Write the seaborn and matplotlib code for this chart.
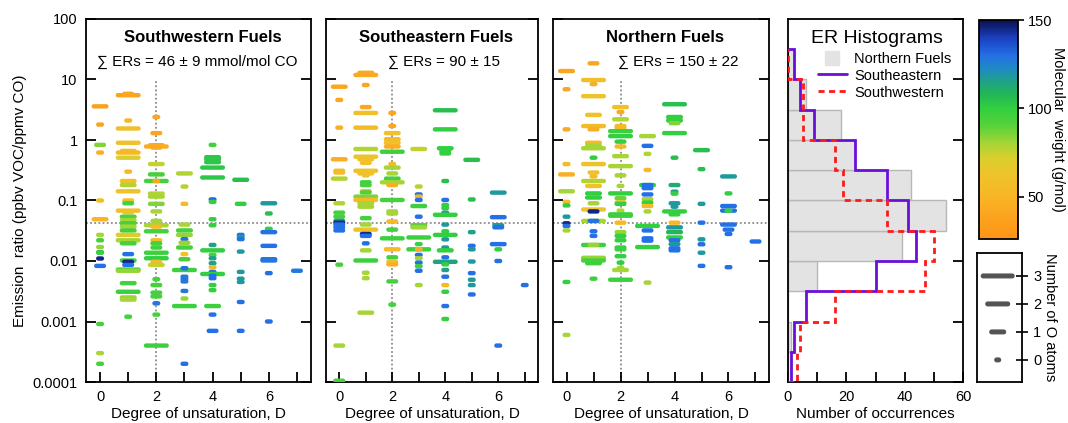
import numpy as np
import pandas as pd
import matplotlib
matplotlib.use("Agg")
import matplotlib.pyplot as plt
from matplotlib.path import Path
from matplotlib.colors import LinearSegmentedColormap, Normalize
from matplotlib.cm import ScalarMappable
from matplotlib.lines import Line2D
from matplotlib.ticker import NullLocator
import seaborn as sns

sns.set_theme(style="white")
plt.rcParams["font.family"] = ["Liberation Sans", "DejaVu Sans"]
plt.rcParams["axes.edgecolor"] = "black"
plt.rcParams["axes.linewidth"] = 1.3
plt.rcParams["xtick.color"] = "black"
plt.rcParams["ytick.color"] = "black"
plt.rcParams["text.color"] = "black"
plt.rcParams["axes.labelcolor"] = "black"

# ---------------------------------------------------------------------------
# Emission ratios (ppbv VOC / ppmv CO), molecular weight (g/mol) and number of
# O atoms, one inner list per degree of unsaturation D = 0..7
# ---------------------------------------------------------------------------
sw_er = [
    [3.6, 1.8, 0.83, 0.62, 0.10, 0.049, 0.027, 0.022, 0.017, 0.014, 0.0137, 0.011, 0.0083, 0.00091, 0.0003, 0.0002],
    [5.5, 5.8, 2.1, 1.55, 0.9, 0.66, 0.62, 0.51, 0.30, 0.21, 0.18, 0.142, 0.10, 0.09, 0.068, 0.064, 0.054, 0.047,
     0.042, 0.037, 0.032, 0.027, 0.022, 0.0196, 0.013, 0.0102, 0.0097, 0.0086, 0.0072, 0.0069, 0.0043, 0.0031,
     0.0025, 0.0023, 0.0012],
    [2.4, 1.3, 0.82, 0.78, 0.75, 0.40, 0.27, 0.21, 0.21, 0.13, 0.116, 0.088, 0.066, 0.046, 0.039, 0.037, 0.031,
     0.022, 0.0196, 0.0167, 0.0137, 0.0111, 0.0097, 0.0086, 0.005, 0.004, 0.003, 0.0026, 0.002, 0.0013, 0.0004],
    [0.28, 0.17, 0.088, 0.040, 0.032, 0.027, 0.023, 0.020, 0.0167, 0.013, 0.0107, 0.0071, 0.0076, 0.0055, 0.005,
     0.0046, 0.0032, 0.0024, 0.0018, 0.0002],
    [0.83, 0.52, 0.48, 0.43, 0.35, 0.24, 0.104, 0.095, 0.049, 0.039, 0.0184, 0.015, 0.0126, 0.0111, 0.0092, 0.0079,
     0.0066, 0.0061, 0.0057, 0.0052, 0.004, 0.0033, 0.0018, 0.0013, 0.0007],
    [0.22, 0.088, 0.027, 0.025, 0.023, 0.0143, 0.0066, 0.0051, 0.0045, 0.0021, 0.0007],
    [0.09, 0.061, 0.034, 0.030, 0.0178, 0.0107, 0.0102, 0.0063, 0.001],
    [0.0069],
]
sw_mw = [
    [36, 38, 85, 45, 60, 50, 80, 95, 82, 110, 98, 145, 130, 95, 80, 95],
    [38, 40, 50, 60, 62, 55, 52, 72, 55, 62, 78, 62, 62, 95, 58, 62, 92, 80, 95, 80, 95, 70, 80, 95, 130, 97, 145,
     130, 97, 82, 95, 97, 82, 80, 95],
    [40, 40, 42, 44, 42, 75, 95, 95, 40, 78, 80, 85, 80, 80, 80, 55, 95, 60, 95, 95, 97, 100, 55, 75, 95, 95, 95,
     95, 128, 95, 97],
    [78, 78, 55, 80, 95, 82, 130, 82, 95, 62, 95, 97, 130, 128, 128, 128, 128, 82, 97, 130],
    [95, 103, 103, 103, 103, 103, 132, 100, 100, 100, 115, 100, 95, 115, 115, 52, 130, 100, 130, 130, 100, 100, 97,
     130, 130],
    [105, 100, 130, 118, 130, 118, 118, 118, 118, 130, 130],
    [118, 105, 100, 130, 130, 130, 128, 130, 130],
    [128],
]
sw_o = [
    [2, 0, 1, 0, 0, 2, 0, 0, 0, 0, 0, 0, 1, 0, 0, 0],
    [3, 1, 0, 3, 3, 2, 3, 3, 0, 2, 2, 3, 1, 1, 3, 1, 2, 2, 2, 2, 2, 3, 3, 2, 1, 2, 1, 1, 3, 3, 2, 3, 2, 2, 0],
    [0, 1, 2, 3, 1, 2, 2, 3, 0, 2, 2, 2, 1, 1, 3, 1, 3, 1, 1, 1, 3, 3, 1, 2, 0, 1, 1, 1, 0, 0, 3],
    [2, 0, 0, 1, 2, 2, 0, 1, 2, 0, 1, 3, 0, 0, 0, 0, 0, 0, 3, 0],
    [0, 2, 2, 2, 3, 3, 0, 0, 0, 0, 0, 3, 0, 0, 0, 0, 0, 3, 0, 0, 0, 0, 2, 0, 1],
    [2, 1, 0, 0, 0, 0, 0, 0, 0, 0, 0],
    [2, 0, 0, 2, 2, 2, 2, 0, 0],
    [1],
]

se_er = [
    [7.6, 4.6, 1.6, 0.48, 0.31, 0.29, 0.23, 0.09, 0.063, 0.054, 0.046, 0.043, 0.040, 0.036, 0.032, 0.0087, 0.0004,
     0.000105],
    [12.9, 11.9, 8.1, 3.5, 2.8, 1.6, 0.71, 0.53, 0.48, 0.42, 0.31, 0.28, 0.26, 0.20, 0.18, 0.142, 0.136, 0.116,
     0.102, 0.09, 0.079, 0.051, 0.040, 0.033, 0.028, 0.026, 0.0196, 0.015, 0.0102, 0.0064, 0.0052, 0.0014],
    [2.8, 1.7, 1.3, 1.03, 0.9, 0.78, 0.64, 0.40, 0.35, 0.28, 0.23, 0.20, 0.18, 0.102, 0.066, 0.061, 0.045, 0.033,
     0.0237, 0.0156, 0.0115, 0.0097, 0.0088, 0.0046, 0.0019],
    [0.71, 0.17, 0.126, 0.116, 0.102, 0.081, 0.054, 0.039, 0.036, 0.0245, 0.019, 0.0156, 0.0156, 0.0126, 0.0111,
     0.0094, 0.0082, 0.0069, 0.004],
    [3.1, 1.5, 0.73, 0.66, 0.60, 0.21, 0.102, 0.084, 0.075, 0.063, 0.058, 0.040, 0.031, 0.027, 0.0228, 0.0167,
     0.015, 0.0115, 0.0097, 0.0088, 0.0071, 0.0055, 0.004, 0.0031, 0.0018, 0.0011],
    [0.47, 0.104, 0.030, 0.0178, 0.0156, 0.0098, 0.0063, 0.0049, 0.004, 0.0028],
    [0.135, 0.053, 0.039, 0.036, 0.019, 0.0156, 0.01, 0.0004],
    [0.004],
]
se_mw = [
    [40, 40, 45, 45, 55, 55, 78, 78, 95, 95, 115, 145, 130, 130, 130, 95, 80, 95],
    [42, 42, 40, 40, 60, 55, 78, 62, 62, 62, 62, 62, 62, 95, 95, 55, 92, 85, 55, 80, 80, 95, 80, 62, 145, 130, 130,
     80, 97, 80, 80, 80],
    [40, 40, 62, 55, 62, 45, 97, 55, 80, 80, 95, 80, 45, 95, 80, 80, 52, 95, 97, 55, 95, 62, 45, 95, 95],
    [75, 78, 130, 52, 130, 97, 130, 90, 80, 97, 97, 97, 45, 130, 80, 130, 97, 130, 80],
    [105, 100, 100, 100, 100, 105, 130, 100, 100, 115, 100, 118, 100, 100, 118, 118, 100, 130, 115, 100, 115, 130,
     52, 100, 130, 100],
    [105, 105, 115, 130, 118, 118, 130, 118, 118, 130],
    [118, 130, 118, 130, 130, 100, 130, 130],
    [130],
]
se_o = [
    [2, 0, 0, 2, 1, 1, 2, 1, 1, 1, 1, 1, 1, 1, 1, 0, 1, 1],
    [2, 3, 0, 1, 3, 3, 3, 3, 2, 1, 3, 2, 0, 1, 1, 1, 1, 3, 3, 2, 2, 1, 1, 3, 1, 1, 0, 1, 3, 0, 0, 2],
    [0, 0, 2, 2, 2, 2, 3, 0, 2, 1, 2, 3, 1, 3, 1, 1, 1, 1, 3, 2, 1, 1, 1, 1, 0],
    [2, 0, 0, 0, 0, 2, 0, 2, 2, 3, 0, 3, 0, 0, 0, 0, 0, 0, 0],
    [3, 3, 2, 1, 1, 0, 0, 0, 0, 0, 3, 0, 0, 3, 0, 0, 2, 0, 3, 0, 0, 0, 0, 0, 0, 0],
    [2, 0, 0, 0, 0, 0, 0, 0, 0, 0],
    [2, 2, 1, 1, 2, 0, 0, 0],
    [0],
]

no_er = [
    [13.8, 6.9, 1.5, 0.40, 0.27, 0.142, 0.095, 0.083, 0.054, 0.042, 0.038, 0.032, 0.0045, 0.0006],
    [18.5, 9.8, 8.4, 5.3, 2.6, 1.7, 1.5, 0.9, 0.8, 0.73, 0.51, 0.40, 0.29, 0.25, 0.21, 0.174, 0.131, 0.112, 0.09,
     0.071, 0.066, 0.046, 0.046, 0.031, 0.026, 0.0184, 0.0184, 0.0113, 0.0102, 0.0092, 0.0051],
    [3.5, 2.9, 2.2, 1.7, 1.6, 1.4, 1.16, 0.94, 0.78, 0.54, 0.37, 0.26, 0.174, 0.131, 0.109, 0.093, 0.088, 0.068,
     0.059, 0.056, 0.043, 0.030, 0.026, 0.022, 0.0167, 0.0156, 0.012, 0.0094, 0.0076, 0.0071, 0.0049],
    [1.16, 0.80, 0.59, 0.32, 0.18, 0.18, 0.16, 0.126, 0.105, 0.092, 0.081, 0.066, 0.038, 0.032, 0.0237, 0.0217,
     0.017, 0.0044],
    [3.9, 2.4, 2.1, 1.9, 1.3, 0.51, 0.18, 0.14, 0.13, 0.09, 0.079, 0.066, 0.059, 0.043, 0.036, 0.030, 0.0245, 0.022,
     0.019, 0.0162, 0.015],
    [0.68, 0.33, 0.088, 0.043, 0.0228, 0.0189, 0.0137, 0.0083],
    [0.25, 0.131, 0.081, 0.068, 0.068, 0.040, 0.033, 0.028, 0.0079],
    [0.021],
]
no_mw = [
    [40, 40, 42, 55, 45, 80, 55, 100, 118, 145, 130, 80, 100, 80],
    [40, 60, 45, 62, 62, 55, 45, 55, 80, 80, 100, 62, 62, 55, 78, 62, 100, 100, 80, 62, 145, 80, 130, 130, 130, 97,
     82, 82, 95, 97, 97],
    [62, 42, 78, 55, 55, 97, 100, 100, 55, 80, 80, 80, 80, 100, 88, 60, 100, 78, 97, 97, 52, 82, 100, 100, 100, 97,
     100, 100, 82, 80, 97],
    [80, 130, 78, 55, 100, 130, 130, 130, 80, 100, 55, 80, 100, 130, 130, 130, 100, 80],
    [105, 100, 100, 85, 100, 105, 112, 115, 100, 118, 118, 100, 100, 52, 118, 108, 100, 130, 118, 130, 130],
    [105, 105, 118, 130, 118, 130, 118, 130],
    [118, 100, 130, 130, 100, 130, 130, 130, 130],
    [130],
]
no_o = [
    [2, 0, 0, 0, 2, 2, 0, 0, 0, 0, 0, 0, 0, 0],
    [1, 3, 0, 3, 2, 3, 1, 2, 2, 3, 0, 3, 1, 0, 3, 2, 2, 2, 1, 3, 1, 3, 1, 0, 0, 3, 1, 3, 3, 2, 0],
    [2, 0, 2, 1, 1, 3, 3, 1, 1, 2, 3, 1, 0, 3, 1, 1, 1, 0, 3, 3, 1, 1, 1, 1, 1, 1, 1, 0, 0, 2, 3],
    [2, 1, 0, 0, 2, 1, 1, 1, 1, 1, 1, 0, 3, 1, 1, 1, 3, 0],
    [3, 2, 2, 1, 3, 0, 1, 0, 0, 1, 0, 3, 1, 1, 2, 2, 2, 1, 1, 1, 1],
    [2, 0, 0, 0, 0, 0, 0, 0],
    [2, 0, 2, 2, 0, 2, 1, 0, 0],
    [1],
]

# Histogram counts per half-decade ER bin, from 1e-4 up to 10^1.5
north_counts = [0, 1, 0, 10, 39, 54, 42, 23, 18, 6, 2]
se_counts = [1, 2, 6, 30, 44, 41, 34, 23, 9, 4, 2]
sw_counts = [3, 4, 16, 47, 50, 34, 19, 16, 5, 5, 0]

panel_titles = ["Southwestern Fuels", "Southeastern Fuels", "Northern Fuels"]
panel_sums = ["\u2211 ERs = 46 \u00b1 9 mmol/mol CO", "\u2211 ERs = 90 \u00b1 15", "\u2211 ERs = 150 \u00b1 22"]
y_tick_values = [1e-4, 1e-3, 1e-2, 1e-1, 1, 10, 100]
y_tick_labels = ["0.0001", "0.001", "0.01", "0.1", "1", "10", "100"]
o_levels = [0, 1, 2, 3]


def to_frame(er_cols, mw_cols, o_cols):
    parts = []
    for d, (ers, mws, os_) in enumerate(zip(er_cols, mw_cols, o_cols)):
        parts.append(pd.DataFrame({"D": [d] * len(ers), "ER": ers, "MW": mws, "O": os_}))
    return pd.concat(parts, ignore_index=True)


frames = [to_frame(sw_er, sw_mw, sw_o), to_frame(se_er, se_mw, se_o), to_frame(no_er, no_mw, no_o)]

# Molecular-weight colour scale
cmap = LinearSegmentedColormap.from_list("mw", [
    (0.000, "#ff9418"), (0.097, "#fca31e"), (0.194, "#f8b626"), (0.290, "#efc22a"),
    (0.371, "#d9cf2e"), (0.435, "#a6d535"), (0.516, "#58d23a"), (0.597, "#32cf40"),
    (0.661, "#23b657"), (0.718, "#1fa285"), (0.774, "#1f8cc0"), (0.839, "#2470e6"),
    (0.919, "#1b40c0"), (1.000, "#0a1050")])
norm = Normalize(26, 150)


def dash_path(w, h, n=14):
    """Rounded horizontal dash of width w and height h (any units)."""
    r = h / 2.0
    cx = max(w / 2.0 - r, 0.0)
    t1 = np.linspace(-np.pi / 2, np.pi / 2, n)
    right = np.column_stack([cx + r * np.cos(t1), r * np.sin(t1)])
    t2 = np.linspace(np.pi / 2, 3 * np.pi / 2, n)
    left = np.column_stack([-cx + r * np.cos(t2), r * np.sin(t2)])
    verts = np.vstack([right, left, right[:1]])
    codes = [Path.MOVETO] + [Path.LINETO] * (len(verts) - 2) + [Path.CLOSEPOLY]
    return Path(verts, codes)


PX2PT = 0.72
dash_w = {0: 8, 1: 12, 2: 17, 3: 25}
dash_h = 4.4
markers = {k: dash_path(w, dash_h) for k, w in dash_w.items()}
sizes = {k: (w * PX2PT) ** 2 for k, w in dash_w.items()}

key_w = {0: 7, 1: 17, 2: 25, 3: 34}
key_h = 5.0
key_markers = {k: dash_path(w, key_h) for k, w in key_w.items()}
key_sizes = {k: (w * PX2PT) ** 2 for k, w in key_w.items()}

W, H = 1068, 423
fig = plt.figure(figsize=(W / 100, H / 100), dpi=100)


def px_axes(x0, y0, x1, y1):
    return fig.add_axes([x0 / W, 1 - y1 / H, (x1 - x0) / W, (y1 - y0) / H])


panel_px = [(86, 19, 311, 382), (326, 19, 538, 382), (553, 19, 769, 382)]
title_x = [0.518, 0.517, 0.519]
sum_x = [0.493, 0.557, 0.582]
dot_kw = dict(color="#8c8c8c", lw=1.3, ls=(0, (1, 1.3)), zorder=0)

for i, (df, box) in enumerate(zip(frames, panel_px)):
    ax = px_axes(*box)
    sns.scatterplot(data=df, x="D", y="ER", hue="MW", palette=cmap, hue_norm=norm,
                    style="O", markers=markers, size="O", sizes=sizes,
                    linewidth=0, edgecolor="none", legend=False, ax=ax, zorder=3)
    ax.set_yscale("log")
    ax.set_ylim(1e-4, 100)
    ax.set_xlim(-0.5, 7.5)
    ax.axhline(0.043, **dot_kw)
    ax.axvline(2, ymin=0, ymax=5 / 6, **dot_kw)
    ax.set_yticks(y_tick_values)
    ax.yaxis.set_minor_locator(NullLocator())
    ax.set_xticks(range(8))
    ax.set_xticklabels(["0", "", "2", "", "4", "", "6", ""])
    ax.tick_params(axis="both", direction="in", length=7, width=1.3, labelsize=10.5,
                   left=True, right=True, bottom=True, top=False, pad=6)
    if i == 0:
        ax.set_yticklabels(y_tick_labels)
        ax.set_ylabel("Emission  ratio (ppbv VOC/ppmv CO)", fontsize=11, labelpad=4)
    else:
        ax.set_yticklabels([])
        ax.set_ylabel("")
    ax.set_xlabel("Degree of unsaturation, D", fontsize=11, labelpad=2)
    for sp in ax.spines.values():
        sp.set_color("black")
        sp.set_linewidth(1.3)
    ax.text(title_x[i], 0.95, panel_titles[i], transform=ax.transAxes, ha="center",
            va="center", fontsize=12, fontweight="bold")
    ax.text(sum_x[i], 0.881, panel_sums[i], transform=ax.transAxes, ha="center",
            va="center", fontsize=11)

# Histogram panel
edges = 10.0 ** np.arange(-4.0, 1.51, 0.5)
hax = px_axes(788, 19, 963, 382)
hax.barh(edges[:-1], north_counts, height=np.diff(edges), align="edge",
         color="#e3e3e3", edgecolor="#b7b7b7", linewidth=1.0, zorder=1)
hax.stairs(se_counts, edges, orientation="horizontal", baseline=0, color="#6a0fd8",
           linewidth=2.0, zorder=3)
hax.stairs(sw_counts, edges, orientation="horizontal", baseline=0, color="#ff1a1a",
           linewidth=2.0, linestyle=(0, (2.2, 1.6)), zorder=4)
hax.set_yscale("log")
hax.set_ylim(1e-4, 100)
hax.set_xlim(0, 60)
hax.set_yticks(y_tick_values)
hax.set_yticklabels([])
hax.yaxis.set_minor_locator(NullLocator())
hax.set_xticks(range(0, 61, 10))
hax.set_xticklabels(["0", "", "20", "", "40", "", "60"])
hax.tick_params(axis="both", direction="in", length=7, width=1.3, labelsize=10.5,
                left=False, right=True, bottom=True, top=False, pad=6)
hax.set_xlabel("Number of occurrences", fontsize=11, labelpad=2)
for sp in hax.spines.values():
    sp.set_color("black")
    sp.set_linewidth(1.3)
hax.text(0.511, 0.945, "ER Histograms", transform=hax.transAxes, ha="center",
         va="center", fontsize=14)
handles = [
    Line2D([], [], marker="s", markersize=10, color="#e3e3e3", linestyle="none"),
    Line2D([], [], color="#6a0fd8", linewidth=2.0),
    Line2D([], [], color="#ff1a1a", linewidth=2.0, linestyle=(0, (2.2, 1.6))),
]
hax.legend(handles, ["Northern Fuels", "Southeastern", "Southwestern"], loc="upper left",
           bbox_to_anchor=(0.17, 0.91), frameon=False, fontsize=10.5, borderpad=0,
           handlelength=2.0, handletextpad=0.5, labelspacing=0.2, borderaxespad=0)

# Molecular weight colour bar
cax = px_axes(979, 20, 1018, 239)
cb = fig.colorbar(ScalarMappable(norm=norm, cmap=cmap), cax=cax)
cb.set_ticks([50, 100, 150])
cb.outline.set_linewidth(1.3)
cb.outline.set_edgecolor("black")
cax.tick_params(direction="out", length=4, width=1.2, labelsize=10.5, pad=3)
cb.set_label("Molecular  weight (g/mol)", rotation=270, fontsize=10.5, labelpad=9)

# Key for the number of O atoms
oax = px_axes(977, 253, 1022, 382)
sns.scatterplot(x=[0, 0, 0, 0], y=o_levels, style=o_levels, markers=key_markers,
                size=o_levels, sizes=key_sizes, color="#545454", linewidth=0,
                edgecolor="none", legend=False, ax=oax)
oax.set_xlim(-0.46, 0.54)
oax.set_ylim(-0.79, 3.82)
oax.set_xticks([])
oax.yaxis.tick_right()
oax.set_yticks(o_levels)
oax.tick_params(axis="y", direction="inout", length=8, width=1.2, labelsize=10.5, pad=4,
                right=True, left=False)
oax.yaxis.set_label_position("right")
oax.set_ylabel("Number of O atoms", rotation=270, fontsize=10.5, labelpad=11)
for sp in oax.spines.values():
    sp.set_color("black")
    sp.set_linewidth(1.3)

fig.savefig("out.png", dpi=100)
